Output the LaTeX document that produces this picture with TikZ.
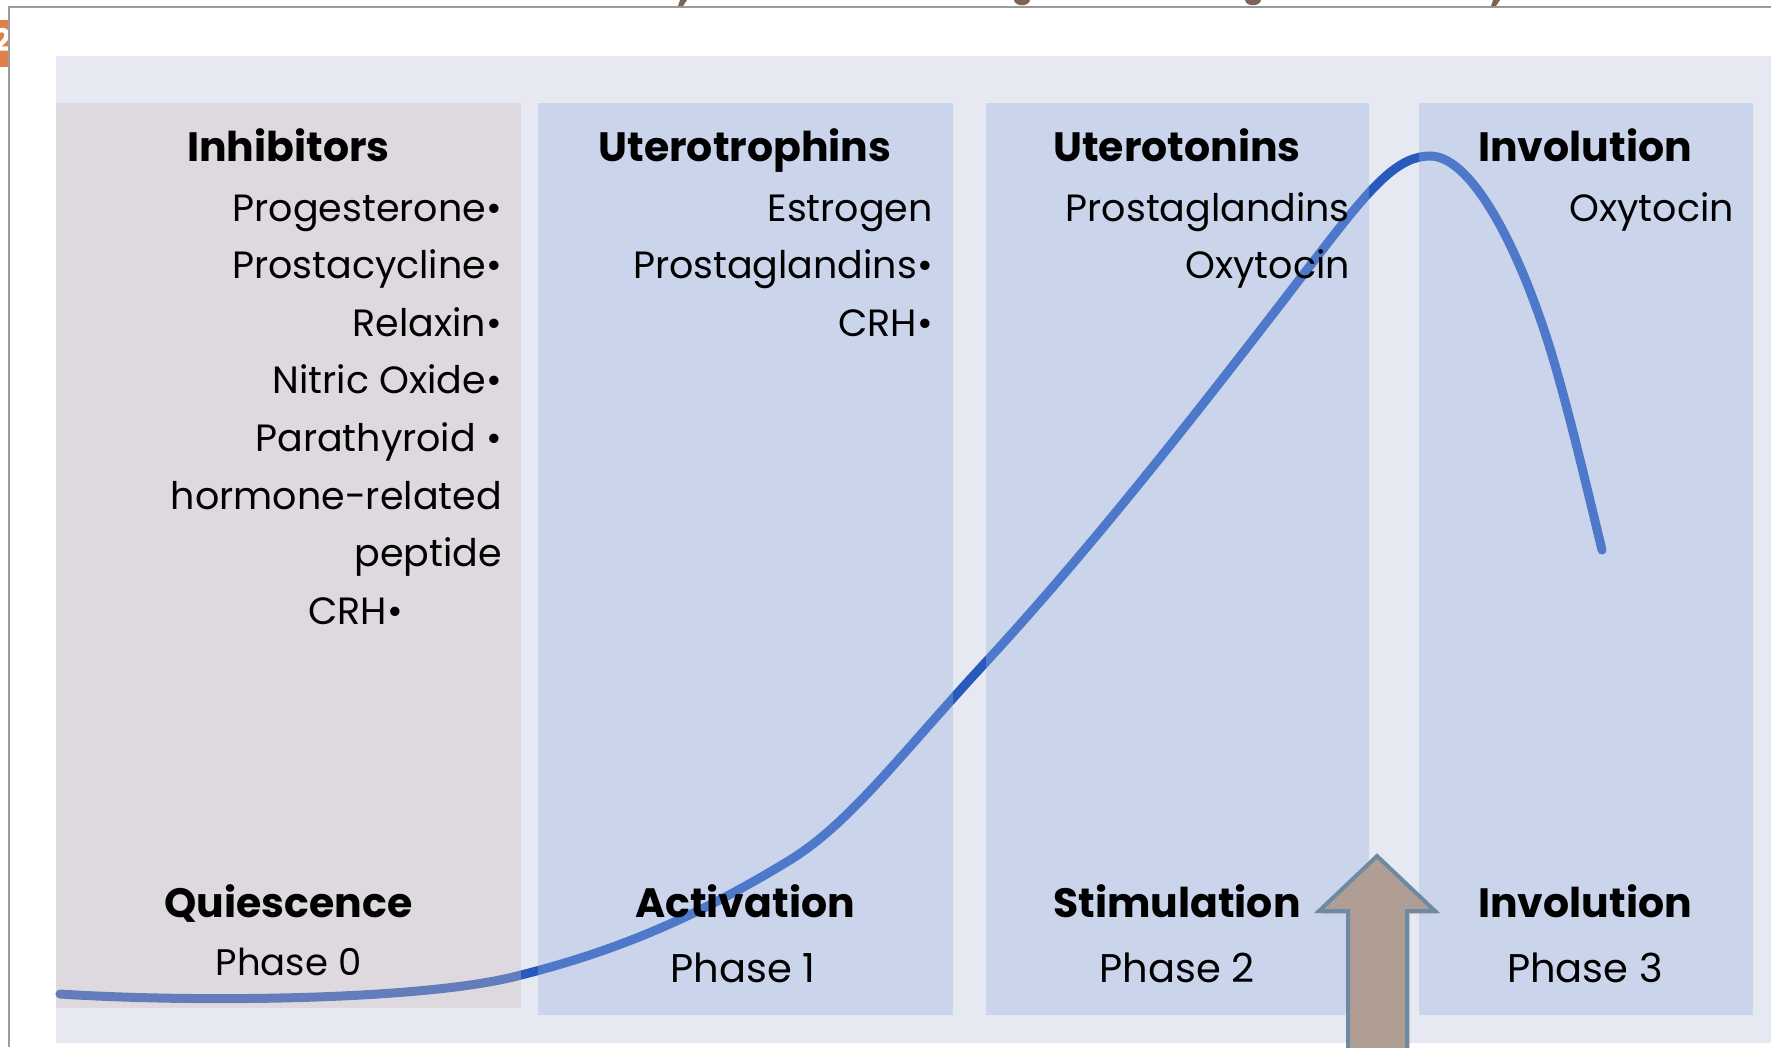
\documentclass[tikz,border=0pt]{standalone}
\usepackage{fontspec}
\setmainfont{Poppins}
\usetikzlibrary{shapes,arrows,positioning,calc,shadows}
\definecolor{panelbg}{RGB}{230,233,242}
\definecolor{restgray}{RGB}{207,190,185}
\definecolor{phaseblue}{RGB}{150,176,225}
\definecolor{curveblue}{RGB}{40,90,190}
\definecolor{arrowfill}{RGB}{176,157,148}
\definecolor{arrowedge}{RGB}{110,138,162}
\definecolor{taborange}{RGB}{224,128,72}
\definecolor{titlebrown}{RGB}{125,99,86}
\definecolor{framegray}{RGB}{155,155,155}

\tikzset{
  phasebox/.style={rectangle, draw=none, fill opacity=0.35, inner sep=0pt, minimum height=912pt},
  head/.style={font=\fontsize{41}{49}\selectfont\bfseries, inner sep=0pt, anchor=base},
  item/.style={font=\fontsize{38}{46}\selectfont, inner sep=0pt, anchor=base east},
  phase/.style={font=\fontsize{40}{48}\selectfont, inner sep=0pt, anchor=base},
}

\begin{document}
\begin{tikzpicture}[x=1pt, y=-1pt]
    \useasboundingbox (0,0) rectangle (1771,1047);

    % slide background, tab and frame
    \fill[panelbg] (56,56) rectangle (1771,1043);
    \fill[taborange] (0,20) rectangle (9,67);
    \begin{scope}
        \clip (0,20) rectangle (10,67);
        \node[white, font=\fontsize{31}{31}\selectfont\bfseries, inner sep=0pt, anchor=base east] (slideno) at (11,51) {2};
    \end{scope}
    \draw[framegray, line width=1.5pt] (9,1047) -- (9,7) -- (1771,7);

    % bits of the title above the frame
    \fill[titlebrown] (680,0) -- (687,0) -- (683,6) -- (678,6) -- cycle;
    \fill[titlebrown] (1014,0) .. controls (1015,7) and (1029,7) .. (1030,0) -- cycle;
    \fill[titlebrown] (1245,0) .. controls (1246,7) and (1260,7) .. (1261,0) -- cycle;
    \fill[titlebrown] (1493,0) -- (1500,0) -- (1496,6) -- (1491,6) -- cycle;

    % contraction curve
    \draw[curveblue, line width=9pt, line cap=round]
        (60,994) .. controls (200,1003) and (430,1000) .. (521,975)
        .. controls (620,950) and (700,915) .. (790,860)
        .. controls (850,823) and (900,755) .. (985,663)
        .. controls (1120,517) and (1260,330) .. (1330,240)
        .. controls (1375,182) and (1400,156) .. (1430,156)
        .. controls (1470,156) and (1515,240) .. (1547,339)
        .. controls (1565,395) and (1585,480) .. (1602,550);

    % phase columns
    \node[phasebox, minimum width=465pt, minimum height=905pt, fill=restgray, anchor=north west] (quies) at (56,103) {};
    \node[phasebox, minimum width=415pt, fill=phaseblue, right=16pt of quies.north east, anchor=north west] (activ) {};
    \node[phasebox, minimum width=383pt, fill=phaseblue, right=33pt of activ.north east, anchor=north west] (stimu) {};
    \node[phasebox, minimum width=334pt, fill=phaseblue, right=50pt of stimu.north east, anchor=north west] (invol) {};

    % birth arrow
    \draw[arrowedge, fill=arrowfill, line width=4pt, line join=miter,
          drop shadow={opacity=0.25, shadow xshift=3pt, shadow yshift=-3pt}]
        (1377,856) -- (1435,911) -- (1407,911) -- (1407,1060) -- (1348,1060) -- (1348,911) -- (1319,911) -- cycle;

    % headings
    \node[head] (inh) at (288.5,161) {Inhibitors};
    \node[head] (utr) at (745,161) {Uterotrophins};
    \node[head] (uto) at (1177,161) {Uterotonins};
    \node[head] (inv) at (1585,161) {Involution};

    % inhibitors
    \node[item] (prog) at (502,221) {Progesterone•};
    \node[item, below=57.6pt of prog.base east, anchor=base east] (pcyc) {Prostacycline•};
    \node[item, below=57.6pt of pcyc.base east, anchor=base east] (relax) {Relaxin•};
    \node[item, below=57.6pt of relax.base east, anchor=base east] (nitric) {Nitric Oxide•};
    \node[item, below=57.6pt of nitric.base east, anchor=base east] (pthr) {Parathyroid •};
    \node[item, below=57.6pt of pthr.base east, anchor=base east] (hormrel) {hormone-related};
    \node[item, below=57.6pt of hormrel.base east, anchor=base east] (pept) {peptide};
    \node[item] (crhA) at (403,624.5) {CRH•};

    % uterotrophins
    \node[item] (estr) at (933,221) {Estrogen};
    \node[item, below=57.6pt of estr.base east, anchor=base east] (pglA) {Prostaglandins•};
    \node[item, below=57.6pt of pglA.base east, anchor=base east] (crhB) {CRH•};

    % uterotonins
    \node[item] (pglB) at (1350,221) {Prostaglandins};
    \node[item, below=57.6pt of pglB.base east, anchor=base east] (oxyA) {Oxytocin};

    % involution
    \node[item] (oxyB) at (1734,221) {Oxytocin};

    % phase names
    \node[head] (qname) at (288.5,917) {Quiescence};
    \node[phase, font=\fontsize{37}{45}\selectfont] (qnum) at (288.5,975) {Phase 0};
    \node[head] (aname) at (745,917) {Activation};
    \node[phase] (anum) at (743,982) {Phase 1};
    \node[head] (sname) at (1177,917) {Stimulation};
    \node[phase] (snum) at (1177,982) {Phase 2};
    \node[head] (iname) at (1585,917) {Involution};
    \node[phase] (inum) at (1585,982) {Phase 3};
\end{tikzpicture}
\end{document}
